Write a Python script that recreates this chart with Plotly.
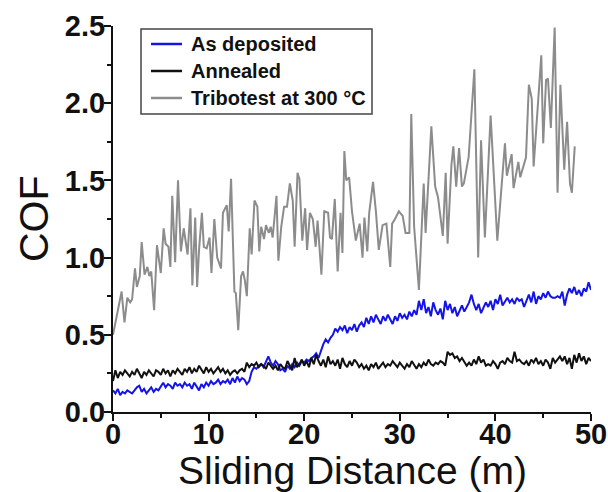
import numpy as np
import plotly.graph_objects as go

# Sliding distance grid for the two lower curves (m)
dist = np.linspace(0, 50, 201)

as_deposited = [
    0.14, 0.12, 0.15, 0.11, 0.13, 0.12, 0.14, 0.13, 0.12, 0.14, 0.16, 0.17,
    0.13, 0.15, 0.12, 0.14, 0.16, 0.13, 0.15, 0.14, 0.17, 0.19, 0.16, 0.18,
    0.17, 0.15, 0.19, 0.17, 0.18, 0.16, 0.19, 0.17, 0.18, 0.15, 0.19, 0.16,
    0.14, 0.18, 0.16, 0.19, 0.17, 0.20, 0.18, 0.19, 0.21, 0.18, 0.20, 0.19,
    0.21, 0.18, 0.22, 0.19, 0.23, 0.20, 0.22, 0.21, 0.18, 0.20, 0.26, 0.29,
    0.28, 0.30, 0.31, 0.29, 0.33, 0.36, 0.32, 0.30, 0.33, 0.31, 0.27, 0.28,
    0.26, 0.30, 0.28, 0.31, 0.29, 0.32, 0.30, 0.33, 0.32, 0.34, 0.33, 0.35,
    0.36, 0.38, 0.35, 0.40, 0.44, 0.47, 0.45, 0.48, 0.50, 0.54, 0.52, 0.55,
    0.53, 0.56, 0.51, 0.55, 0.53, 0.57, 0.52, 0.56, 0.58, 0.55, 0.61, 0.57,
    0.62, 0.58, 0.63, 0.60, 0.57, 0.62, 0.59, 0.63, 0.60, 0.57, 0.62, 0.59,
    0.64, 0.61, 0.63, 0.60, 0.65, 0.62, 0.66, 0.63, 0.72, 0.66, 0.73, 0.64,
    0.68, 0.62, 0.71, 0.66, 0.63, 0.67, 0.60, 0.72, 0.66, 0.70, 0.64, 0.68,
    0.62, 0.66, 0.69, 0.65, 0.68, 0.71, 0.76, 0.70, 0.66, 0.70, 0.64, 0.67,
    0.71, 0.68, 0.72, 0.66, 0.73, 0.70, 0.76, 0.69, 0.72, 0.74, 0.71, 0.73,
    0.70, 0.74, 0.72, 0.73, 0.68, 0.72, 0.76, 0.71, 0.78, 0.70, 0.75, 0.73,
    0.77, 0.74, 0.78, 0.75, 0.74, 0.74, 0.75, 0.74, 0.78, 0.69, 0.76, 0.80,
    0.77, 0.81, 0.76, 0.79, 0.75, 0.80, 0.78, 0.84, 0.79,
]

annealed = [
    0.20, 0.27, 0.22, 0.26, 0.24, 0.27, 0.25, 0.23, 0.26, 0.24, 0.28, 0.25,
    0.22, 0.26, 0.24, 0.27, 0.25, 0.23, 0.27, 0.26, 0.24, 0.28, 0.25, 0.27,
    0.23, 0.27, 0.25, 0.28, 0.26, 0.24, 0.28, 0.26, 0.29, 0.25, 0.28, 0.26,
    0.30, 0.27, 0.25, 0.29, 0.26, 0.28, 0.25, 0.27, 0.29, 0.26, 0.28, 0.25,
    0.27, 0.24, 0.26, 0.27, 0.25, 0.27, 0.28, 0.26, 0.32, 0.29, 0.31, 0.30,
    0.32, 0.29, 0.31, 0.30, 0.28, 0.32, 0.30, 0.28, 0.30, 0.27, 0.31, 0.29,
    0.28, 0.33, 0.30, 0.27, 0.35, 0.29, 0.31, 0.34, 0.30, 0.33, 0.29, 0.35,
    0.31, 0.37, 0.33, 0.30, 0.34, 0.29, 0.36, 0.31, 0.33, 0.30, 0.34, 0.28,
    0.35, 0.31, 0.29, 0.33, 0.30, 0.34, 0.32, 0.29, 0.31, 0.28, 0.30, 0.27,
    0.31, 0.29, 0.32, 0.28, 0.30, 0.32, 0.29, 0.31, 0.30, 0.33, 0.31, 0.29,
    0.32, 0.30, 0.28, 0.31, 0.29, 0.33, 0.30, 0.28, 0.31, 0.29, 0.32, 0.30,
    0.34, 0.31, 0.30, 0.32, 0.31, 0.33, 0.32, 0.30, 0.39, 0.37, 0.38, 0.35,
    0.36, 0.33, 0.35, 0.32, 0.30, 0.32, 0.30, 0.34, 0.31, 0.36, 0.32, 0.34,
    0.30, 0.31, 0.30, 0.33, 0.31, 0.28, 0.32, 0.33, 0.31, 0.35, 0.33, 0.32,
    0.39, 0.33, 0.34, 0.32, 0.31, 0.33, 0.30, 0.34, 0.32, 0.35, 0.31, 0.33,
    0.30, 0.34, 0.32, 0.28, 0.35, 0.32, 0.34, 0.36, 0.33, 0.36, 0.31, 0.35,
    0.28, 0.37, 0.32, 0.38, 0.33, 0.36, 0.31, 0.35, 0.33,
]

tribo_dist = [
    0.0, 0.3, 0.6, 0.9, 1.2, 1.5, 1.8, 2.0, 2.3, 2.5, 2.8, 3.0, 3.3, 3.6, 3.8,
    4.0, 4.3, 4.6, 5.0, 5.3, 5.5, 5.8, 6.0, 6.2, 6.5, 6.8, 7.1, 7.4, 7.8, 8.1,
    8.3, 8.6, 8.8, 9.0, 9.3, 9.5, 9.8, 10.1, 10.3, 10.6, 10.9, 11.3, 11.5, 11.9,
    12.1, 12.35, 12.7, 12.85, 13.1, 13.4, 13.6, 13.8, 14.0, 14.3, 14.5, 14.8,
    15.1, 15.3, 15.5, 15.8, 16.0, 16.3, 16.5, 16.7, 17.1, 17.3, 17.6, 17.9,
    18.2, 18.5, 18.8, 19.0, 19.3, 19.5, 19.8, 20.1, 20.3, 20.6, 20.9, 21.2,
    21.4, 21.8, 22.1, 22.5, 22.7, 22.9, 23.2, 23.5, 23.8, 24.0, 24.2, 24.4,
    24.7, 25.0, 25.4, 25.8, 26.1, 26.3, 26.6, 26.8, 27.2, 27.5, 27.8, 28.2,
    28.6, 29.0, 29.2, 29.5, 29.9, 30.3, 30.6, 31.0, 31.2, 31.5, 32.0, 32.5,
    32.7, 33.3, 33.7, 34.0, 34.5, 34.8, 35.0, 35.4, 35.6, 35.9, 36.2, 36.5,
    36.7, 37.2, 37.8, 38.2, 38.5, 38.9, 39.5, 40.2, 41.0, 41.2, 41.7, 41.9,
    42.4, 42.6, 43.2, 43.5, 43.8, 44.0, 44.8, 45.0, 45.3, 45.5, 45.8, 46.2,
    46.5, 46.8, 47.2, 47.5, 47.8, 48.0, 48.3,
]

tribotest_300 = [
    0.50, 0.60, 0.68, 0.78, 0.58, 0.74, 0.71, 0.73, 0.93, 0.81, 0.88, 1.10, 0.89, 0.94, 0.88,
    0.91, 0.66, 1.08, 0.90, 1.19, 1.09, 1.07, 0.94, 1.40, 0.97, 1.50, 1.04, 1.19, 1.02, 1.32,
    0.82, 1.26, 0.81, 1.05, 1.29, 1.07, 1.06, 1.13, 0.90, 1.25, 1.00, 0.93, 1.29, 1.34,
    1.17, 1.51, 0.78, 0.77, 0.53, 0.88, 0.91, 0.85, 0.75, 1.19, 1.02, 1.37,
    1.33, 1.04, 1.20, 1.12, 1.21, 1.16, 1.20, 1.13, 1.40, 0.98, 1.20, 1.33,
    1.33, 1.48, 1.37, 1.07, 1.55, 1.51, 1.11, 1.32, 1.05, 1.29, 1.25, 1.07,
    1.24, 0.89, 1.30, 1.29, 1.13, 1.12, 1.38, 0.91, 1.29, 1.03, 1.69, 1.50,
    1.52, 1.30, 1.11, 1.22, 1.00, 1.26, 1.04, 1.29, 1.49, 1.30, 1.05, 1.21,
    1.22, 0.94, 1.22, 1.25, 1.30, 1.27, 1.16, 1.16, 1.93, 1.20, 0.79, 1.48,
    1.16, 1.85, 1.46, 1.39, 1.14, 1.55, 1.09, 1.60, 1.72, 1.46, 1.71, 1.46,
    1.48, 1.65, 2.22, 1.00, 1.76, 1.13, 1.92, 1.11, 1.74, 1.53, 1.67, 1.45,
    1.62, 1.52, 1.65, 2.12, 2.03, 1.59, 2.31, 1.74, 2.15, 2.16, 1.84, 2.49,
    1.42, 2.12, 1.57, 1.88, 1.48, 1.42, 1.72,
]

series_names = ["As deposited", "Annealed", "Tribotest at 300 °C"]
series_colors = ["#1414e6", "#111111", "#8c8c8c"]

x_ticks = [0, 10, 20, 30, 40, 50]
y_ticks = [0.0, 0.5, 1.0, 1.5, 2.0, 2.5]
y_tick_text = ["0.0", "0.5", "1.0", "1.5", "2.0", "2.5"]

FONT = "Liberation Sans, Arial, sans-serif"
W, H = 608, 492
ML, MR, MT, MB = 113, 17, 26, 80
PW, PH = W - ML - MR, H - MT - MB


def px_x(p):  # pixel -> paper x
    return (p - ML) / PW


def px_y(p):  # pixel -> paper y
    return (H - MB - p) / PH


fig = go.Figure()
fig.add_trace(go.Scatter(x=dist, y=as_deposited, mode="lines", name=series_names[0],
                         line=dict(color=series_colors[0], width=2)))
fig.add_trace(go.Scatter(x=dist, y=annealed, mode="lines", name=series_names[1],
                         line=dict(color=series_colors[1], width=2)))
fig.add_trace(go.Scatter(x=tribo_dist, y=tribotest_300, mode="lines",
                         name=series_names[2],
                         line=dict(color=series_colors[2], width=2)))

# Legend drawn as a framed box (matching the original's compact legend)
shapes = [dict(type="rect", xref="paper", yref="paper",
               x0=px_x(141), x1=px_x(372), y0=px_y(114), y1=px_y(29),
               line=dict(color="#444444", width=1.5), fillcolor="white", layer="above")]
annotations = []
for i, (nm, col) in enumerate(zip(series_names, series_colors)):
    yc = 44 + i * 27
    shapes.append(dict(type="line", xref="paper", yref="paper",
                       x0=px_x(151), x1=px_x(182), y0=px_y(yc), y1=px_y(yc),
                       line=dict(color=col, width=2.5), layer="above"))
    annotations.append(dict(xref="paper", yref="paper", x=px_x(189), y=px_y(yc),
                            xanchor="left", yanchor="middle", showarrow=False, text=nm,
                            font=dict(family=FONT, size=20, weight="bold", color="#111111")))

# Axis titles
annotations.append(dict(xref="paper", yref="paper", x=0.5, y=px_y(470),
                        xanchor="center", yanchor="middle", showarrow=False,
                        text="Sliding Distance (m)", borderpad=0,
                        font=dict(family=FONT, size=39, color="#111111")))
annotations.append(dict(xref="paper", yref="paper", x=px_x(34), y=0.5,
                        xanchor="center", yanchor="middle", showarrow=False, textangle=-90,
                        text="COF", font=dict(family=FONT, size=41, color="#111111")))

fig.update_layout(
    width=W, height=H,
    margin=dict(l=ML, r=MR, t=MT, b=MB),
    paper_bgcolor="white", plot_bgcolor="white",
    font=dict(family=FONT, color="#111111"),
    showlegend=False,
    shapes=shapes, annotations=annotations,
    xaxis=dict(
        range=[0, 50], tickvals=x_ticks, ticktext=[str(v) for v in x_ticks],
        showgrid=False, zeroline=False, showline=True, linecolor="#111111", linewidth=2,
        ticks="outside", ticklen=7, tickwidth=2, tickcolor="#111111",
        minor=dict(ticks="outside", ticklen=4, tickwidth=1.5, tickcolor="#111111", dtick=5, showgrid=False),
        tickfont=dict(family=FONT, size=29, weight="bold", color="#111111"),
        ticklabelstandoff=-12, automargin=False,
    ),
    yaxis=dict(
        range=[0, 2.5], tickvals=y_ticks, ticktext=y_tick_text,
        showgrid=False, zeroline=False, showline=True, linecolor="#111111", linewidth=2,
        ticks="outside", ticklen=7, tickwidth=2, tickcolor="#111111",
        minor=dict(ticks="outside", ticklen=4, tickwidth=1.5, tickcolor="#111111", dtick=0.25, showgrid=False),
        tickfont=dict(family=FONT, size=29, weight="bold", color="#111111"),
        ticklabelstandoff=-7, automargin=False,
    ),
)

fig.write_html("out.html")
